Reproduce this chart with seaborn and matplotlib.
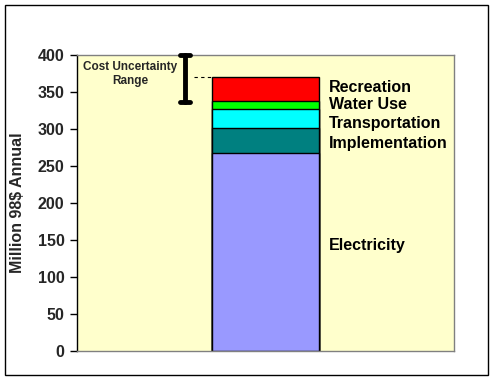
import numpy as np
import pandas as pd
import matplotlib
matplotlib.use("Agg")
import matplotlib.pyplot as plt
import matplotlib.patches as mpatches
import seaborn as sns

# --- Data ---
components = ["Electricity", "Implementation", "Transportation", "Water Use", "Recreation"]
values = [267, 35, 25, 11, 32]
colors = ["#9999FF", "#008080", "#00FFFF", "#00FF00", "#FF0000"]
uncertainty_low = 336
uncertainty_high = 400
y_ticks = [0, 50, 100, 150, 200, 250, 300, 350, 400]

sns.set_theme(style="white")
plt.rcParams["font.family"] = ["Liberation Sans", "DejaVu Sans"]

fig = plt.figure(figsize=(4.94, 3.81), dpi=100)
ax = fig.add_axes([77 / 494, 30 / 381, 377 / 494, 296 / 381])
ax.set_facecolor("#FFFFCC")

# stacked bar: draw cumulative totals from the top down
cum = np.cumsum(values)
for i in range(len(components) - 1, -1, -1):
    df = pd.DataFrame({"cat": ["Total"], "val": [cum[i]]})
    sns.barplot(data=df, x="cat", y="val", color=colors[i], width=0.284,
                edgecolor="black", linewidth=1.0, saturation=1, ax=ax, zorder=2)

# labels to the right of the bar
label_y = {"Electricity": 143, "Implementation": 281, "Transportation": 307,
           "Water Use": 333, "Recreation": 356}
for name in components:
    ax.text(0.168, label_y[name], name, fontsize=11.5, fontweight="bold",
            va="center", ha="left", color="black")

# uncertainty range
ex = -0.2135
ax.plot([ex, ex], [uncertainty_low, uncertainty_high], color="black", lw=3.5, zorder=3,
        clip_on=False)
for yv in (uncertainty_low, uncertainty_high):
    ax.plot([ex - 0.014, ex + 0.014], [yv, yv], color="black", lw=3.5,
            solid_capstyle="round", zorder=3, clip_on=False)
ax.plot([-0.19, -0.142], [cum[-1], cum[-1]], color="black", lw=0.8,
        linestyle=(0, (3, 3)), zorder=3)
ax.text(-0.359, 392, "Cost Uncertainty\nRange", fontsize=8.5, fontweight="bold",
        ha="center", va="top", linespacing=1.25)

ax.set_xlim(-0.5, 0.5)
ax.set_ylim(0, 400)
ax.set_yticks(y_ticks)
ax.set_yticklabels([str(t) for t in y_ticks], fontsize=11.5, fontweight="bold")
ax.set_xticks([])
ax.set_xlabel("")
ax.set_ylabel("Million 98$ Annual", fontsize=11.5, fontweight="bold", labelpad=9)
ax.tick_params(axis="y", direction="out", length=5, width=1, color="black", pad=4, left=True)

for side in ("top", "right", "bottom"):
    ax.spines[side].set_color("#808080")
    ax.spines[side].set_linewidth(1)
ax.spines["left"].set_color("black")
ax.spines["left"].set_linewidth(1)

# outer frame
fig.patches.append(mpatches.Rectangle((5 / 494, 6 / 381), 483 / 494, 370 / 381,
                                      transform=fig.transFigure, fill=False,
                                      edgecolor="black", linewidth=1))

fig.savefig("out.png", dpi=100)
